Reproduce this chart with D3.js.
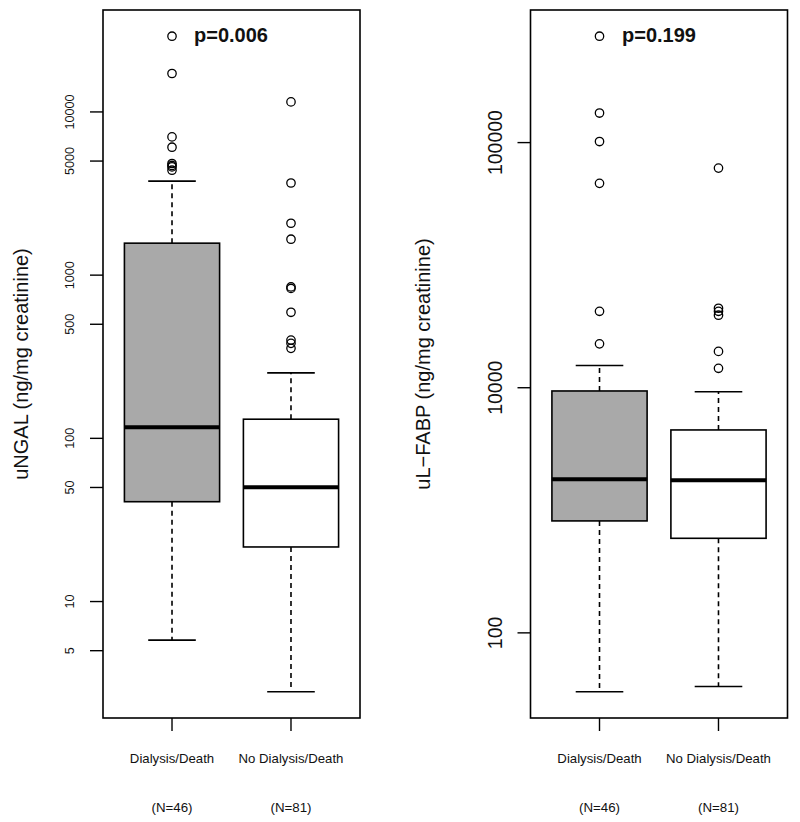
<!DOCTYPE html>
<html>
<head>
<meta charset="utf-8">
<script src="https://cdn.jsdelivr.net/npm/d3@7"></script>
<style>
  html, body { margin: 0; padding: 0; background: #fff; }
  svg { display: block; font-family: "Liberation Sans", Arial, sans-serif; }
</style>
</head>
<body>
<svg id="chart" width="800" height="822"></svg>
<script>
// ---------------- DATA ----------------
const groups = ["Dialysis/Death", "No Dialysis/Death"];
const groupN = ["(N=46)", "(N=81)"];
const groupFill = ["#a9a9a9", "#ffffff"];

// uNGAL (left panel) five-number summaries: [lowWhisker, Q1, median, Q3, highWhisker]
const ngalStats = [
  [5.8, 40.9, 117, 1570, 3770],
  [2.8, 21.6, 50.1, 131, 252]
];
const ngalOutliers = [
  [29100, 17200, 7030, 6080, 4830, 4700, 4605, 4395],
  [11520, 3670, 2080, 1660, 847, 829, 592, 400, 382, 356]
];
const ngalTicks = [5, 10, 50, 100, 500, 1000, 5000, 10000];
const ngalTickLabels = ["5", "10", "50", "100", "500", "1000", "5000", "10000"];
const ngalTitle = "uNGAL (ng/mg creatinine)";
const ngalP = "p=0.006";

// uL-FABP (right panel)
const fabpStats = [
  [575, 2862, 4234, 9700, 12330],
  [604, 2431, 4190, 6726, 9630]
];
const fabpOutliers = [
  [271600, 132000, 101000, 68200, 20500, 15100],
  [78700, 21100, 20500, 19760, 14070, 12000]
];
const fabpTicks = [1000, 10000, 100000];
const fabpTickLabels = ["100", "10000", "100000"];
const fabpTitle = "uL\u2212FABP (ng/mg creatinine)";
const fabpP = "p=0.199";

// ---------------- DRAW ----------------
const svg = d3.select("#chart");

function panel(opts) {
  const {x0, x1, y0, y1, stats, outliers, ticks, tickLabels, tickFont,
         title, titleX, pText, pX, tickLabelX} = opts;
  const g = svg.append("g");

  // y scale: R-style 4% extension in log space
  const all = stats.flat().concat(outliers.flat());
  const lo = Math.log10(d3.min(all)), hi = Math.log10(d3.max(all));
  const pad = (hi - lo) * 0.04;
  const y = d3.scaleLog()
    .domain([Math.pow(10, lo - pad), Math.pow(10, hi + pad)])
    .range([y1, y0]);

  // x scale: positions 1..n, xlim = [0.5, n+0.5] extended 4%
  const n = groups.length;
  const xr = n + 0.5 - 0.5;
  const x = d3.scaleLinear()
    .domain([0.5 - xr * 0.04, n + 0.5 + xr * 0.04])
    .range([x0, x1]);
  const bw = x(1.4) - x(0.6);      // box width (boxwex 0.8)
  const sw = bw * 0.5;             // staple width

  stats.forEach((s, i) => {
    const cx = x(i + 1);
    const [wl, q1, med, q3, wh] = s;
    // whiskers
    g.append("line").attr("x1", cx).attr("x2", cx)
      .attr("y1", y(q3)).attr("y2", y(wh))
      .attr("stroke", "#000").attr("stroke-width", 1.6).attr("stroke-dasharray", "5,4");
    g.append("line").attr("x1", cx).attr("x2", cx)
      .attr("y1", y(q1)).attr("y2", y(wl))
      .attr("stroke", "#000").attr("stroke-width", 1.6).attr("stroke-dasharray", "5,4");
    // staples
    [wl, wh].forEach(v => {
      g.append("line").attr("x1", cx - sw / 2).attr("x2", cx + sw / 2)
        .attr("y1", y(v)).attr("y2", y(v))
        .attr("stroke", "#000").attr("stroke-width", 1.6);
    });
    // box
    g.append("rect").attr("x", cx - bw / 2).attr("width", bw)
      .attr("y", y(q3)).attr("height", y(q1) - y(q3))
      .attr("fill", groupFill[i]).attr("stroke", "#000").attr("stroke-width", 1.6);
    // median
    g.append("line").attr("x1", cx - bw / 2).attr("x2", cx + bw / 2)
      .attr("y1", y(med)).attr("y2", y(med))
      .attr("stroke", "#000").attr("stroke-width", 4);
    // outliers
    g.selectAll(null).data(outliers[i]).enter().append("circle")
      .attr("cx", cx).attr("cy", d => y(d)).attr("r", 4.2)
      .attr("fill", "none").attr("stroke", "#000").attr("stroke-width", 1.3);
  });

  // frame
  g.append("rect").attr("x", x0).attr("y", y0)
    .attr("width", x1 - x0).attr("height", y1 - y0)
    .attr("fill", "none").attr("stroke", "#000").attr("stroke-width", 1.6);

  // y axis ticks
  ticks.forEach((t, k) => {
    g.append("line").attr("x1", x0 - 13).attr("x2", x0)
      .attr("y1", y(t)).attr("y2", y(t))
      .attr("stroke", "#000").attr("stroke-width", 1.4);
    g.append("text")
      .attr("transform", `translate(${tickLabelX},${y(t)}) rotate(-90)`)
      .attr("text-anchor", "middle").attr("dominant-baseline", "central")
      .attr("font-size", tickFont).attr("fill", "#111")
      .text(tickLabels[k]);
  });

  // x axis ticks and labels
  groups.forEach((gname, i) => {
    const cx = x(i + 1);
    g.append("line").attr("x1", cx).attr("x2", cx)
      .attr("y1", y1).attr("y2", y1 + 13)
      .attr("stroke", "#000").attr("stroke-width", 1.4);
    g.append("text").attr("x", cx).attr("y", y1 + 45)
      .attr("text-anchor", "middle").attr("font-size", 13.2).attr("fill", "#111")
      .text(gname);
    g.append("text").attr("x", cx).attr("y", y1 + 94)
      .attr("text-anchor", "middle").attr("font-size", 13.3).attr("fill", "#111")
      .text(groupN[i]);
  });

  // y title
  g.append("text")
    .attr("transform", `translate(${titleX},${(y0 + y1) / 2}) rotate(-90)`)
    .attr("text-anchor", "middle").attr("dominant-baseline", "central")
    .attr("font-size", 20).attr("fill", "#111")
    .text(title);

  // p value
  g.append("text").attr("x", pX).attr("y", y0 + 32)
    .attr("font-size", 20).attr("font-weight", "bold").attr("fill", "#111")
    .text(pText);
}

panel({x0: 103, x1: 360, y0: 10, y1: 718,
  stats: ngalStats, outliers: ngalOutliers, ticks: ngalTicks, tickLabels: ngalTickLabels,
  tickFont: 12.6, tickLabelX: 70, title: ngalTitle, titleX: 21, pText: ngalP, pX: 194});

panel({x0: 530.5, x1: 787.5, y0: 10, y1: 718,
  stats: fabpStats, outliers: fabpOutliers, ticks: fabpTicks, tickLabels: fabpTickLabels,
  tickFont: 19.5, tickLabelX: 495, title: fabpTitle, titleX: 423, pText: fabpP, pX: 622});
</script>
</body>
</html>
